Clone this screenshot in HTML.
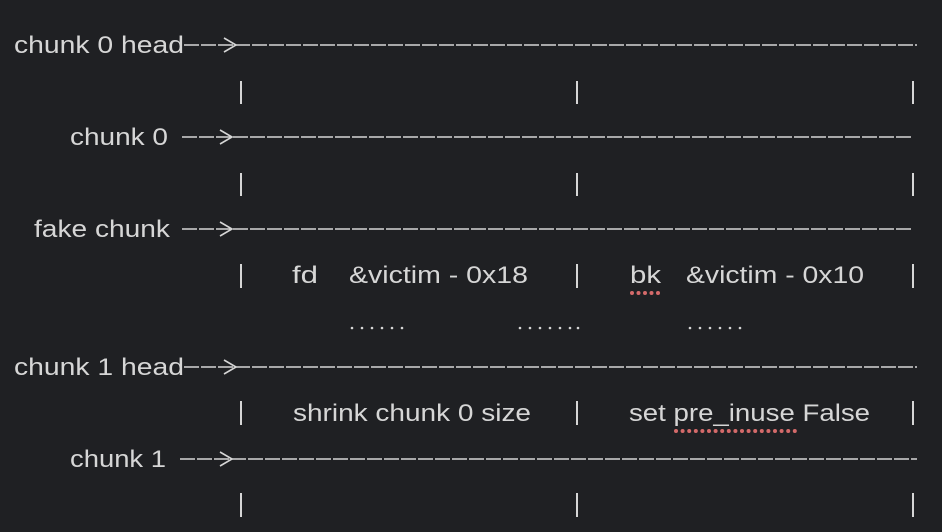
<!DOCTYPE html>
<html><head><meta charset="utf-8"><style>
html,body{margin:0;padding:0;background:#1f2023;}
svg{display:block}
text{font-family:"Liberation Sans",sans-serif;font-size:24px;fill:#d6d6d6;}
</style></head><body>
<svg width="942" height="532" viewBox="0 0 942 532">
<rect width="942" height="532" fill="#1f2023"/>
<g stroke="#d6d6d6" stroke-width="1.6" stroke-dasharray="15 2" fill="none">
<line x1="184" y1="45" x2="917" y2="45"/>
<line x1="182" y1="137" x2="913" y2="137"/>
<line x1="182" y1="229" x2="913" y2="229"/>
<line x1="184" y1="367" x2="917" y2="367"/>
<line x1="180" y1="459" x2="917" y2="459"/>
</g>
<g stroke="#d6d6d6" stroke-width="1.6" fill="none">
<polyline points="224,38 236,45 224,52"/>
<polyline points="220,130 232,137 220,144"/>
<polyline points="220,222 232,229 220,236"/>
<polyline points="224,360 236,367 224,374"/>
<polyline points="220,452 232,459 220,466"/>
</g>
<g stroke="#d6d6d6" stroke-width="2">
<line x1="241" y1="81" x2="241" y2="104"/><line x1="577" y1="81" x2="577" y2="104"/><line x1="913" y1="81" x2="913" y2="104"/>
<line x1="241" y1="173" x2="241" y2="196"/><line x1="577" y1="173" x2="577" y2="196"/><line x1="913" y1="173" x2="913" y2="196"/>
<line x1="241" y1="264" x2="241" y2="288"/><line x1="577" y1="264" x2="577" y2="288"/><line x1="913" y1="264" x2="913" y2="288"/>
<line x1="241" y1="401" x2="241" y2="425"/><line x1="577" y1="401" x2="577" y2="425"/><line x1="913" y1="401" x2="913" y2="425"/>
<line x1="241" y1="493" x2="241" y2="517"/><line x1="577" y1="493" x2="577" y2="517"/><line x1="913" y1="493" x2="913" y2="517"/>
</g>
<text x="14" y="53" textLength="170" lengthAdjust="spacingAndGlyphs">chunk 0 head</text>
<text x="70" y="145" textLength="98" lengthAdjust="spacingAndGlyphs">chunk 0</text>
<text x="34" y="237" textLength="136" lengthAdjust="spacingAndGlyphs">fake chunk</text>
<text x="14" y="375" textLength="170" lengthAdjust="spacingAndGlyphs">chunk 1 head</text>
<text x="70" y="467" textLength="96" lengthAdjust="spacingAndGlyphs">chunk 1</text>
<text x="292" y="283" textLength="26" lengthAdjust="spacingAndGlyphs">fd</text>
<text x="349" y="283" textLength="179" lengthAdjust="spacingAndGlyphs">&amp;victim - 0x18</text>
<text x="630" y="283" textLength="31" lengthAdjust="spacingAndGlyphs">bk</text>
<text x="686" y="283" textLength="178" lengthAdjust="spacingAndGlyphs">&amp;victim - 0x10</text>
<text x="293" y="421" textLength="238" lengthAdjust="spacingAndGlyphs">shrink chunk 0 size</text>
<text x="629" y="421" textLength="241" lengthAdjust="spacingAndGlyphs">set pre_inuse False</text>
<g fill="#d6d6d6">
<circle cx="352" cy="328" r="1.3"/><circle cx="362" cy="328" r="1.3"/><circle cx="372" cy="328" r="1.3"/><circle cx="382" cy="328" r="1.3"/><circle cx="392" cy="328" r="1.3"/><circle cx="402" cy="328" r="1.3"/>
<circle cx="520" cy="328" r="1.3"/><circle cx="530" cy="328" r="1.3"/><circle cx="540" cy="328" r="1.3"/><circle cx="550" cy="328" r="1.3"/><circle cx="560" cy="328" r="1.3"/><circle cx="570" cy="328" r="1.3"/><circle cx="578" cy="328" r="1.3"/>
<circle cx="690" cy="328" r="1.3"/><circle cx="700" cy="328" r="1.3"/><circle cx="710" cy="328" r="1.3"/><circle cx="720" cy="328" r="1.3"/><circle cx="730" cy="328" r="1.3"/><circle cx="740" cy="328" r="1.3"/>
</g>
<line x1="632" y1="293" x2="660" y2="293" stroke="#d46a6a" stroke-width="4" stroke-linecap="round" stroke-dasharray="0 6.5"/>
<line x1="676" y1="431" x2="799" y2="431" stroke="#d46a6a" stroke-width="4" stroke-linecap="round" stroke-dasharray="0 6.6"/>
</svg>
</body></html>
